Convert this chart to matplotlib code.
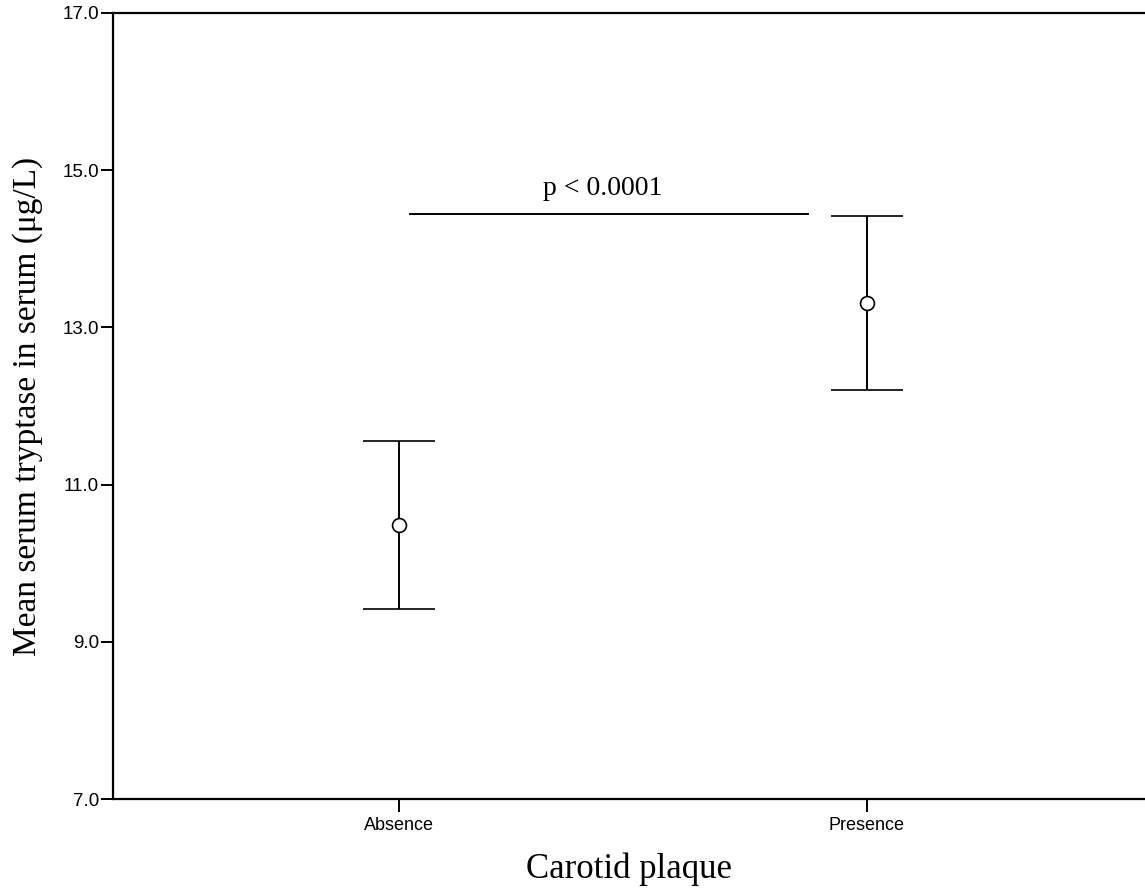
import matplotlib
matplotlib.use("Agg")
from matplotlib import pyplot as plt
from matplotlib.ticker import FormatStrFormatter

# group means and 95% CI limits
groups = ["Absence", "Presence"]
means = [10.49, 13.31]
ci_low = [9.42, 12.20]
ci_high = [11.55, 14.42]
p_text = "p < 0.0001"
p_level = 14.44
yticks = [7.0, 9.0, 11.0, 13.0, 15.0, 17.0]

serif = ["Liberation Serif", "DejaVu Serif"]
sans = ["Liberation Sans", "DejaVu Sans"]

fig = plt.figure(figsize=(11.45, 8.88), dpi=100)
ax = fig.add_axes([0.0987, 0.1002, 0.9013, 0.8852])

xs = list(range(len(groups)))
err_lo = [m - l for m, l in zip(means, ci_low)]
err_hi = [h - m for m, h in zip(means, ci_high)]
ax.errorbar(xs, means, yerr=[err_lo, err_hi], fmt="o", color="black",
            mfc="white", mec="black", ms=10, mew=1.2,
            ecolor="black", elinewidth=1.4, capsize=26, capthick=1.4)

# significance line and label
ax.plot([0.0235, 0.874], [p_level, p_level], color="black", lw=1.4)
ax.text(0.435, p_level + 0.17, p_text, ha="center", va="bottom",
        fontsize=20, family=serif)

ax.set_xlim(-0.611, 1.594)
ax.set_ylim(7.0, 17.0)
ax.set_xticks(xs)
ax.set_xticklabels(groups, family=sans, fontsize=13)
ax.set_yticks(yticks)
ax.yaxis.set_major_formatter(FormatStrFormatter("%.1f"))
for lab in ax.get_yticklabels():
  lab.set_family(sans)
  lab.set_fontsize(13.5)
ax.tick_params(axis="x", direction="out", length=9, width=1.4, pad=4)
ax.tick_params(axis="y", direction="out", length=9, width=1.4, pad=1)

ax.spines["right"].set_visible(False)
for s in ("left", "top", "bottom"):
  ax.spines[s].set_linewidth(1.6)

ax.set_xlabel("Carotid plaque", family=serif, fontsize=25, labelpad=13)
ax.set_ylabel("Mean serum tryptase in serum (\u03bcg/L)", family=serif,
              fontsize=24, labelpad=14)

fig.savefig("out.png", dpi=100)
